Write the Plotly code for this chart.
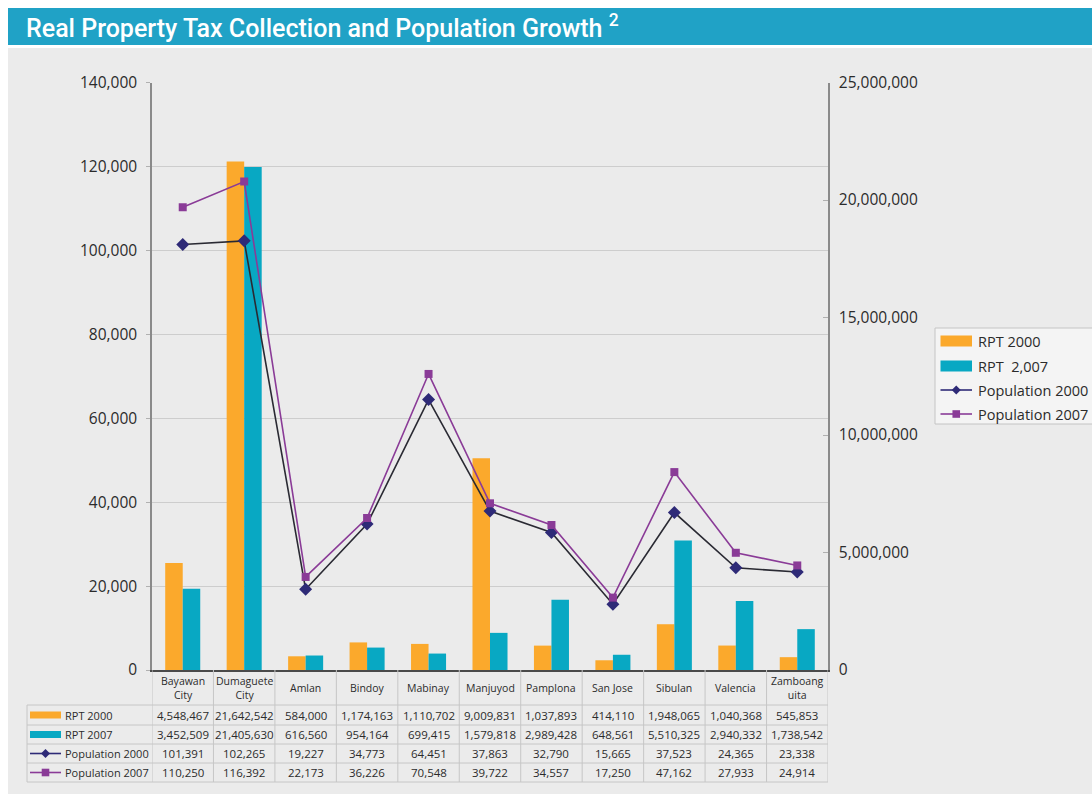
import plotly.graph_objects as go

# ---------------- data ----------------
categories = ["Bayawan City", "Dumaguete City", "Amlan", "Bindoy", "Mabinay", "Manjuyod",
              "Pamplona", "San Jose", "Sibulan", "Valencia", "Zamboanguita"]
header_labels = ["Bayawan<br>City", "Dumaguete<br>City", "Amlan", "Bindoy", "Mabinay", "Manjuyod",
                 "Pamplona", "San Jose", "Sibulan", "Valencia", "Zamboang<br>uita"]
rpt_2000 = [4548467, 21642542, 584000, 1174163, 1110702, 9009831, 1037893, 414110, 1948065, 1040368, 545853]
rpt_2007 = [3452509, 21405630, 616560, 954164, 699415, 1579818, 2989428, 648561, 5510325, 2940332, 1738542]
pop_2000 = [101391, 102265, 19227, 34773, 64451, 37863, 32790, 15665, 37523, 24365, 23338]
pop_2007 = [110250, 116392, 22173, 36226, 70548, 39722, 34557, 17250, 47162, 27933, 24914]

legend_names = ["RPT 2000", "RPT  2,007", "Population 2000", "Population 2007"]
table_row_names = ["RPT 2000", "RPT 2007", "Population 2000", "Population 2007"]
left_ticks = [0, 20000, 40000, 60000, 80000, 100000, 120000, 140000]
right_ticks = [0, 5000000, 10000000, 15000000, 20000000, 25000000]
title_text = "Real Property Tax Collection and Population Growth <sup>2</sup>"

# ---------------- style ----------------
W, H = 1092, 794
ORANGE = "#FBA92C"
TEAL = "#08A8C3"
NAVY = "#2E2A77"
LINE2000 = "#2a2a33"
PURPLE = "#8A3B97"
BG = "#EBEBEB"
TITLEBAR = "#20A2C6"
TXT = "#2b2b2b"
GRID = "#CDCDCD"
FONT = "Open Sans, Noto Sans, sans-serif"

def X(px):
    return px / W

def Y(py):
    return 1 - py / H

PLOT_L, PLOT_R, PLOT_T, PLOT_B = 152, 828, 82.5, 670

fig = go.Figure()

fig.add_trace(go.Bar(x=categories, y=rpt_2000, name=legend_names[0], marker_color=ORANGE,
                     marker_line_width=0, yaxis="y", showlegend=False))
fig.add_trace(go.Bar(x=categories, y=rpt_2007, name=legend_names[1], marker_color=TEAL,
                     marker_line_width=0, yaxis="y", showlegend=False))
fig.add_trace(go.Scatter(x=categories, y=pop_2000, name=legend_names[2], mode="lines+markers",
                         line=dict(color=LINE2000, width=1.6),
                         marker=dict(symbol="diamond", size=10, color=NAVY),
                         yaxis="y2", showlegend=False))
fig.add_trace(go.Scatter(x=categories, y=pop_2007, name=legend_names[3], mode="lines+markers",
                         line=dict(color=PURPLE, width=1.6),
                         marker=dict(symbol="square", size=8, color=PURPLE),
                         yaxis="y2", showlegend=False))

shapes = []
annotations = []

# background & title bar
shapes.append(dict(type="rect", xref="paper", yref="paper", x0=X(8), x1=X(W), y0=Y(48), y1=Y(H),
                   fillcolor=BG, line_width=0, layer="below"))
shapes.append(dict(type="rect", xref="paper", yref="paper", x0=X(8), x1=X(W), y0=Y(8), y1=Y(45),
                   fillcolor=TITLEBAR, line_width=0, layer="below"))
annotations.append(dict(text=title_text, xref="paper", yref="paper", x=X(24), y=Y(26.5),
                        xanchor="left", yanchor="middle", showarrow=False,
                        font=dict(family="Roboto, DejaVu Sans, sans-serif", size=25,
                                  weight=500, color="white")))

# ---------------- table ----------------
TBL_L = 27
row_lines = [705, 725, 744, 763, 782]
row_centers = [715, 734.5, 753.5, 772.5]
TLINE = "#C6C6C6"
for py in row_lines:
    shapes.append(dict(type="line", xref="paper", yref="paper", x0=X(TBL_L), x1=X(PLOT_R),
                       y0=Y(py), y1=Y(py), line=dict(color=TLINE, width=1)))
shapes.append(dict(type="line", xref="paper", yref="paper", x0=X(TBL_L), x1=X(TBL_L),
                   y0=Y(row_lines[0]), y1=Y(row_lines[-1]), line=dict(color=TLINE, width=1)))
for i in range(len(categories) + 1):
    shapes.append(dict(type="line", xref="x", yref="paper", x0=i - 0.5, x1=i - 0.5,
                       y0=Y(PLOT_B), y1=Y(row_lines[-1]), line=dict(color=TLINE, width=1)))

for i, lab in enumerate(header_labels):
    annotations.append(dict(text=lab, xref="x", yref="paper", x=i, y=Y(688),
                            xanchor="center", yanchor="middle", showarrow=False,
                            font=dict(family=FONT, size=10.5, color=TXT)))
for r, series in enumerate([rpt_2000, rpt_2007, pop_2000, pop_2007]):
    for i, v in enumerate(series):
        annotations.append(dict(text=f"{v:,}", xref="x", yref="paper", x=i, y=Y(row_centers[r]),
                                xanchor="center", yanchor="middle", showarrow=False,
                                font=dict(family=FONT, size=11.5, color=TXT)))


def legend_symbol(kind, x0, x1, cy, bar_h):
    out = []
    if kind in ("bar0", "bar1"):
        col = ORANGE if kind == "bar0" else TEAL
        out.append(dict(type="rect", xref="paper", yref="paper", x0=X(x0), x1=X(x1),
                        y0=Y(cy - bar_h / 2), y1=Y(cy + bar_h / 2), fillcolor=col, line_width=0))
    else:
        col = NAVY if kind == "pop0" else PURPLE
        out.append(dict(type="line", xref="paper", yref="paper", x0=X(x0), x1=X(x1),
                        y0=Y(cy), y1=Y(cy), line=dict(color=col, width=1.6)))
        cx = (x0 + x1) / 2
        if kind == "pop0":
            r = 4.5
            path = (f"M {X(cx - r)},{Y(cy)} L {X(cx)},{Y(cy - r)} L {X(cx + r)},{Y(cy)} "
                    f"L {X(cx)},{Y(cy + r)} Z")
            out.append(dict(type="path", xref="paper", yref="paper", path=path,
                            fillcolor=col, line_width=0))
        else:
            r = 3.8
            out.append(dict(type="rect", xref="paper", yref="paper", x0=X(cx - r), x1=X(cx + r),
                            y0=Y(cy - r), y1=Y(cy + r), fillcolor=col, line_width=0))
    return out

kinds = ["bar0", "bar1", "pop0", "pop1"]
for r, name in enumerate(table_row_names):
    shapes += legend_symbol(kinds[r], 30, 61, row_centers[r], 7)
    annotations.append(dict(text=name, xref="paper", yref="paper", x=X(63), y=Y(row_centers[r]),
                            xanchor="left", yanchor="middle", showarrow=False,
                            font=dict(family=FONT, size=11, color=TXT)))

# ---------------- legend box ----------------
shapes.append(dict(type="rect", xref="paper", yref="paper", x0=X(935), x1=X(1100), y0=Y(328), y1=Y(424),
                   fillcolor="#F4F4F4", line=dict(color="#C4C4C4", width=1)))
leg_centers = [341, 366, 390, 414]
for r, name in enumerate(legend_names):
    shapes += legend_symbol(kinds[r], 940.5, 972, leg_centers[r], 11)
    annotations.append(dict(text=name, xref="paper", yref="paper", x=X(976), y=Y(leg_centers[r]),
                            xanchor="left", yanchor="middle", showarrow=False,
                            font=dict(family=FONT, size=14.5, color=TXT)))

fig.update_layout(
    width=W, height=H, autosize=False,
    margin=dict(l=0, r=0, t=0, b=0, autoexpand=False),
    paper_bgcolor="white", plot_bgcolor=BG,
    barmode="group", bargap=0.43, bargroupgap=0,
    showlegend=False,
    font=dict(family=FONT, color=TXT),
    xaxis=dict(type="category", categoryorder="array", categoryarray=categories,
               domain=[X(PLOT_L), X(PLOT_R)], range=[-0.5, len(categories) - 0.5],
               showticklabels=False, ticks="", showgrid=False, zeroline=False, automargin=False,
               showline=True, linecolor="#4a4a4a", linewidth=1.5, anchor="y", fixedrange=True),
    yaxis=dict(domain=[Y(PLOT_B), Y(PLOT_T)], range=[0, 25000000], side="right", anchor="x",
               tickvals=right_ticks, tickformat=",d", showgrid=False, zeroline=False,
               automargin=False,
               showline=True, linecolor="#8a8a8a", linewidth=1.5,
               ticks="inside", ticklen=5, tickcolor="#b0b0b0",
               ticklabelstandoff=6,
               tickfont=dict(family=FONT, size=15.5, color=TXT)),
    yaxis2=dict(overlaying="y", side="left", anchor="x", range=[0, 140000],
                tickvals=left_ticks, tickformat=",d", showgrid=True, gridcolor=GRID, gridwidth=1,
                zeroline=False, showline=True, linecolor="#8a8a8a", linewidth=1.5,
                automargin=False,
                ticks="outside", ticklen=4, tickcolor="#b0b0b0",
                ticklabelstandoff=6,
                tickfont=dict(family=FONT, size=15.5, color=TXT)),
    shapes=shapes,
    annotations=annotations,
)

fig.write_html("out.html")
